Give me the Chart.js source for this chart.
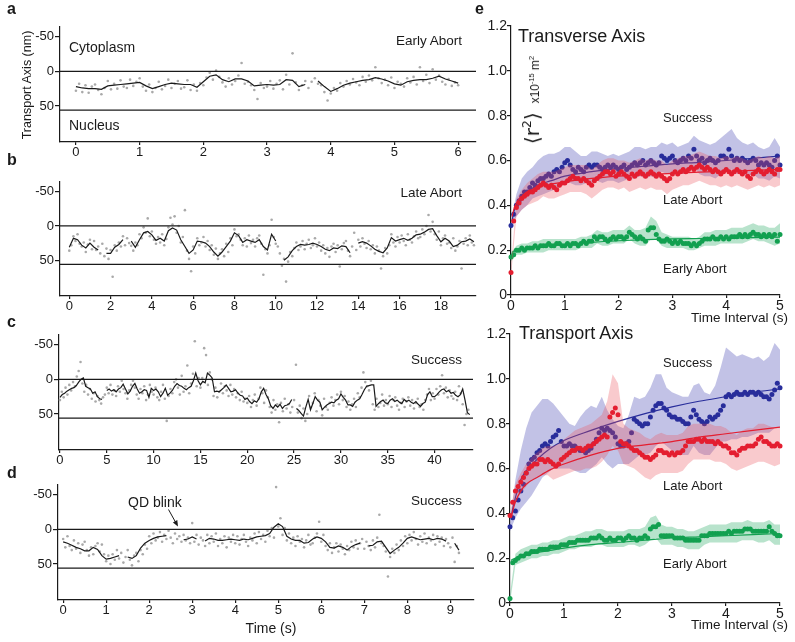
<!DOCTYPE html>
<html>
<head>
<meta charset="utf-8">
<script src="https://cdn.jsdelivr.net/npm/chart.js@4.4.0/dist/chart.umd.min.js"></script>
<style>
  html, body { margin: 0; padding: 0; background: #fff; }
  #fig { position: relative; width: 795px; height: 642px; overflow: hidden;
         font-family: 'Liberation Sans', Arial, Helvetica, sans-serif; color: #1a1a1a; }
  #fig canvas { position: absolute; }
  .t { position: absolute; line-height: 1; white-space: nowrap; }
  .l { transform: translateY(-50%); }
  .r { transform: translate(-100%, -50%); }
  .c { transform: translate(-50%, -50%); }
  .v { transform: translate(-50%, -50%) rotate(-90deg); }
  .p { font-weight: bold; font-size: 16px; }
  sup { font-size: 0.62em; line-height: 0; }
</style>
</head>
<body>
<div id="fig">
  <canvas id="chartA"></canvas>
  <canvas id="chartB"></canvas>
  <canvas id="chartC"></canvas>
  <canvas id="chartD"></canvas>
  <canvas id="chartTransverse"></canvas>
  <canvas id="chartTransport"></canvas>

  <div class="t l p" style="left:7px;top:9px">a</div>
  <div class="t l p" style="left:7px;top:160px">b</div>
  <div class="t l p" style="left:7px;top:322px">c</div>
  <div class="t l p" style="left:7px;top:473px">d</div>
  <div class="t l p" style="left:475px;top:9px">e</div>

  <div class="t v" style="left:27px;top:85px;font-size:12.5px">Transport Axis (nm)</div>
  <div class="t l" style="left:69px;top:47px;font-size:14px">Cytoplasm</div>
  <div class="t l" style="left:69px;top:125px;font-size:14px">Nucleus</div>
  <div class="t r" style="left:462px;top:41px;font-size:13.5px">Early Abort</div>
  <div class="t r" style="left:462px;top:193px;font-size:13.5px">Late Abort</div>
  <div class="t r" style="left:462px;top:360px;font-size:13.5px">Success</div>
  <div class="t r" style="left:462px;top:501px;font-size:13.5px">Success</div>
  <div class="t l" style="left:128px;top:502px;font-size:14px">QD blink</div>
  <div class="t c" style="left:271px;top:628px;font-size:14px">Time (s)</div>

  <div class="t l" style="left:518px;top:36px;font-size:18px">Transverse Axis</div>
  <div class="t l" style="left:663px;top:117px;font-size:13px">Success</div>
  <div class="t l" style="left:663px;top:199px;font-size:13px">Late Abort</div>
  <div class="t l" style="left:663px;top:268px;font-size:13px">Early Abort</div>
  <div class="t r" style="left:788px;top:318px;font-size:13.5px">Time Interval (s)</div>
  <div class="t v" style="left:532px;top:100px"><span style="font-size:20px;font-family:'DejaVu Sans',sans-serif">⟨r<sup>2</sup>⟩</span>&nbsp;&nbsp;<span style="font-size:12px">x10<sup>-15</sup> m<sup>2</sup></span></div>

  <div class="t l" style="left:519px;top:333px;font-size:18px">Transport Axis</div>
  <div class="t l" style="left:663px;top:362px;font-size:13px">Success</div>
  <div class="t l" style="left:663px;top:485px;font-size:13px">Late Abort</div>
  <div class="t l" style="left:663px;top:563px;font-size:13px">Early Abort</div>
  <div class="t r" style="left:788px;top:625px;font-size:13.5px">Time Interval (s)</div>

  <svg style="position:absolute;left:0;top:0" width="795" height="642">
    <line x1="168.5" y1="509.5" x2="176" y2="523" stroke="#1a1a1a" stroke-width="1"/>
    <polygon points="178,526.5 172.9,522.5 177.3,520.1" fill="#1a1a1a"/>
  </svg>
</div>

<script>
// ---------- a-d: single particle traces along the transport axis (nm) ----------
const envelopeNm = 56;
const traceYTicks = [-50, 0, 50];

// a: Early Abort
const earlyAbortLineStep = 0.1;
const earlyAbortLine = [22,24,25,25,26,21,20,19,18,17,
  16,21,25,22,19,17,18,19,19,23,
  15,7,5,12,15,11,11,14,21,20,
  19,20,19,12,13,22,19,null,14,22,
  29,25,20,17,15,13,12,9,11,14,
  18,20,15,13,12,12,10,7,11,14,
  17];
const earlyAbortDotStep = 0.05;
const earlyAbortDots = [28,18,30,20,31,22,19,27,33,24,14,26,18,25,13,22,24,12,21,15,
  10,22,28,19,30,24,15,26,21,12,24,18,14,25,23,13,27,19,28,17,
  20,9,2,12,-1,8,16,22,10,19,14,6,-12,18,15,20,27,40,17,24,
  22,14,25,18,13,26,5,19,-26,16,27,20,14,24,15,10,18,20,30,42,
  32,24,28,17,22,14,19,11,16,20,8,15,6,13,-6,10,17,12,20,9,
  24,15,18,22,10,16,8,19,-6,14,5,17,-3,12,6,15,19,11,21,16,
  20];
const earlyAbortTicks = [0, 1, 2, 3, 4, 5, 6];

// b: Late Abort
const lateAbortLineStep = 0.2;
const lateAbortLine = [31,18,20,28,32,25,31,35,null,40,
  40,31,27,20,null,22,31,20,10,8,
  13,21,18,22,7,3,6,20,30,40,
  35,22,23,25,30,38,44,38,30,22,
  10,14,24,20,22,24,20,30,35,12,
  22,null,50,45,36,30,27,28,27,25,
  27,30,34,36,32,33,29,30,39,null,
  25,23,25,29,34,37,39,32,17,22,
  20,18,21,18,13,12,9,5,4,14,
  23,18,22,30,28,23,22,19,23];
const lateAbortDotStep = 0.1;
const lateAbortDots = [36,28,15,22,12,26,30,24,38,27,20,34,22,35,30,40,26,44,33,48,
  35,74,28,36,24,30,15,28,18,25,29,36,24,28,12,18,2,10,-11,15,
  8,20,26,16,24,12,28,19,2,-12,-2,-14,10,0,24,16,-23,36,48,66,
  30,40,18,28,24,16,30,22,35,28,42,33,48,40,34,44,26,38,18,28,
  5,15,12,20,28,18,30,14,25,20,30,18,14,26,71,34,40,28,-9,16,
  26,30,40,58,48,81,52,38,44,32,24,35,30,22,34,26,20,32,28,18,
  30,24,36,28,40,32,45,30,26,38,28,59,34,25,22,36,44,30,10,35,
  20,30,18,26,32,22,34,28,40,30,36,62,44,32,40,28,12,24,30,16,
  24,14,22,28,12,20,24,15,8,18,16,5,12,0,-16,8,-6,12,20,8,
  28,18,14,26,24,32,18,36,30,22,62,26,18,28,14,24,28];
const lateAbortTicks = [0, 2, 4, 6, 8, 10, 12, 14, 16, 18];

// c: Success (long)
const successLongLineStep = 0.25;
const successLongLine = [26,22,20,17,15,13,12,9,4,0,-2,10,12,14,20,18,25,28,29,null,
  16,14,17,15,18,14,12,7,14,21,17,10,6,14,20,18,15,16,26,13,
  16,14,18,25,20,13,23,20,16,10,6,9,10,13,15,12,10,2,-9,2,
  8,3,5,-9,-6,-2,18,17,18,15,12,8,13,18,17,15,20,23,24,29,
  27,32,35,31,33,28,18,13,22,28,38,42,37,40,36,42,38,37,35,29,
  null,42,45,49,53,40,29,44,35,25,30,33,44,40,37,35,33,34,30,28,
  21,26,30,37,37,39,33,30,28,22,15,10,9,8,8,39,35,32,30,34,
  35,30,28,32,30,33,35,29,32,30,33,35,32,36,39,35,33,22,18,25,
  25,22,18,15,14,18,16,20,19,23,25,22,14,30,48,51];
const successLongDotStep = 0.2;
const successLongDots = [30,18,26,12,22,8,16,4,10,-4,-12,-25,6,18,8,22,14,28,20,32,24,30,35,26,22,
  12,20,8,22,16,24,10,18,2,14,20,28,16,8,2,12,22,28,14,20,10,30,22,8,18,
  22,12,26,30,18,8,28,60,24,14,20,4,0,12,22,-5,18,10,-20,20,6,-8,-55,10,-2,
  12,-2,-45,-35,8,-10,0,24,12,26,18,6,20,10,16,24,8,22,14,26,20,30,18,32,28,
  34,24,40,30,22,38,28,12,20,34,16,26,40,48,30,44,36,62,34,46,28,42,36,48,40,
  30,-21,48,38,56,42,60,50,24,40,34,20,46,30,38,52,28,40,44,34,26,38,30,22,36,
  18,30,24,40,32,44,36,28,40,20,26,12,-10,4,10,16,2,36,44,28,40,34,22,38,30,
  36,24,40,30,26,38,44,34,28,40,32,26,38,30,42,34,28,40,36,44,30,22,14,30,20,
  28,14,22,10,-6,20,12,26,16,24,28,18,30,10,20,36,66,50,44];
const successLongTicks = [0, 5, 10, 15, 20, 25, 30, 35, 40];

// d: Success with QD blink
const successBlinkLineStep = 0.1;
const successBlinkLine = [18,20,23,26,28,31,31,26,29,38,
  43,42,40,38,null,40,42,38,27,20,
  16,13,11,10,9,null,null,null,15,14,
  11,14,null,17,13,14,16,16,15,14,
  15,16,14,15,13,11,10,9,6,-3,
  -8,-4,10,14,16,16,20,19,14,11,
  13,18,26,27,24,26,30,25,22,20,
  null,24,23,18,17,26,35,30,26,20,
  13,11,13,15,14,13,15,13,14,17,
  null,20,30];
const successBlinkDotStep = 0.05;
const successBlinkDots = [14,26,10,24,30,16,28,20,34,22,18,30,38,26,36,24,20,32,22,36,
  46,38,50,36,44,30,42,34,48,40,30,44,52,38,34,46,30,36,22,28,
  10,20,6,16,12,4,18,8,14,2,12,20,6,14,10,18,8,16,12,20,
  -9,18,8,22,12,16,24,8,20,10,18,6,24,14,20,10,26,12,18,8,
  20,10,22,14,8,18,24,12,16,6,20,4,14,8,18,2,10,-2,12,-61,
  -4,-16,8,-2,16,6,20,12,24,10,18,14,26,16,8,22,20,12,6,-11,
  18,8,24,30,20,34,26,20,32,22,28,36,24,30,18,26,16,28,20,14,
  28,18,24,30,16,26,12,-21,20,24,32,68,40,28,34,22,30,16,24,10,
  20,8,16,4,14,22,10,18,6,20,12,16,8,22,10,18,12,24,14,20,
  26,12,47,24,34];
const successBlinkTicks = [0, 1, 2, 3, 4, 5, 6, 7, 8, 9];

// ---------- e: MSD curves, <r^2> in 1e-15 m^2 vs time interval (s) ----------
const msdStep = 0.05;
const bandStep = 0.1;
const intervalTicks = [0, 1, 2, 3, 4, 5];
const msdTicks = [0, 0.2, 0.4, 0.6, 0.8, 1.0, 1.2];
const fitTimes = [0.02, 0.05, 0.1, 0.2, 0.3, 0.5, 0.75, 1, 1.5, 2, 2.5, 3, 3.5, 4, 4.5, 5];

// Transverse axis
const successTransverse = [0.31,0.36,0.40,0.42,0.44,0.46,0.46,0.48,0.50,0.49,0.51,0.52,0.52,0.53,0.54,0.53,0.55,0.56,0.55,0.57,
  0.59,0.60,0.58,0.56,0.55,0.57,0.56,0.55,0.57,0.58,0.57,0.58,0.58,0.57,0.56,0.57,0.58,0.57,0.58,0.57,
  0.56,0.57,0.58,0.56,0.57,0.58,0.59,0.58,0.59,0.60,0.58,0.59,0.60,0.59,0.58,0.59,0.62,0.61,0.60,0.61,
  0.62,0.60,0.59,0.60,0.61,0.60,0.62,0.61,0.65,0.62,0.60,0.61,0.59,0.60,0.61,0.60,0.59,0.60,0.62,0.62,
  0.61,0.65,0.62,0.60,0.61,0.60,0.61,0.60,0.59,0.60,0.61,0.60,0.58,0.59,0.58,0.59,0.58,0.57,0.60,0.62,
  0.58];
const lateTransverse = [0.10,0.33,0.39,0.41,0.43,0.44,0.45,0.46,0.46,0.47,0.48,0.49,0.50,0.49,0.48,0.49,0.48,0.47,0.49,0.50,
  0.50,0.51,0.52,0.53,0.52,0.52,0.51,0.52,0.51,0.50,0.49,0.51,0.52,0.53,0.54,0.55,0.55,0.54,0.55,0.53,
  0.54,0.55,0.54,0.53,0.52,0.54,0.53,0.54,0.55,0.54,0.53,0.54,0.55,0.54,0.53,0.54,0.53,0.52,0.51,0.52,
  0.54,0.55,0.54,0.55,0.56,0.55,0.56,0.57,0.56,0.57,0.58,0.57,0.56,0.57,0.56,0.55,0.56,0.55,0.54,0.55,
  0.56,0.55,0.54,0.55,0.56,0.55,0.54,0.55,0.53,0.52,0.54,0.55,0.56,0.55,0.54,0.55,0.56,0.55,0.54,0.56,
  0.56];
const earlyTransverse = [0.17,0.18,0.20,0.20,0.21,0.20,0.21,0.21,0.21,0.22,0.21,0.22,0.22,0.22,0.23,0.22,0.22,0.23,0.23,0.22,
  0.22,0.23,0.22,0.23,0.23,0.22,0.23,0.24,0.23,0.24,0.24,0.26,0.25,0.26,0.26,0.25,0.24,0.25,0.26,0.25,
  0.26,0.26,0.25,0.26,0.28,0.27,0.26,0.25,0.26,0.25,0.24,0.29,0.30,0.30,0.27,0.25,0.24,0.24,0.25,0.24,
  0.23,0.24,0.23,0.24,0.23,0.23,0.23,0.22,0.23,0.22,0.23,0.24,0.25,0.25,0.25,0.26,0.25,0.25,0.26,0.25,
  0.26,0.25,0.26,0.26,0.26,0.27,0.26,0.27,0.26,0.27,0.28,0.27,0.27,0.26,0.27,0.26,0.27,0.26,0.27,0.24,
  0.27];
const successTransverseHi = [0.33,0.45,0.52,0.55,0.57,0.60,0.62,0.63,0.63,0.64,0.66,0.66,0.64,0.62,0.62,0.64,0.64,0.63,0.62,0.63,
  0.62,0.63,0.64,0.66,0.66,0.65,0.66,0.66,0.68,0.67,0.68,0.66,0.67,0.68,0.71,0.69,0.68,0.67,0.68,0.70,
  0.72,0.74,0.70,0.68,0.67,0.68,0.66,0.65,0.66,0.70,0.66];
const successTransverseLo = [0.29,0.35,0.38,0.40,0.43,0.44,0.45,0.46,0.47,0.48,0.50,0.50,0.49,0.49,0.50,0.50,0.51,0.50,0.51,0.51,
  0.50,0.51,0.52,0.52,0.53,0.52,0.53,0.52,0.55,0.54,0.55,0.54,0.54,0.55,0.57,0.54,0.53,0.53,0.52,0.54,
  0.55,0.56,0.54,0.54,0.53,0.54,0.52,0.52,0.51,0.53,0.52];
const lateTransverseHi = [0.12,0.43,0.47,0.50,0.52,0.54,0.55,0.55,0.55,0.56,0.57,0.58,0.58,0.58,0.58,0.56,0.58,0.60,0.61,0.61,
  0.60,0.60,0.59,0.60,0.61,0.60,0.61,0.60,0.60,0.58,0.60,0.61,0.62,0.62,0.63,0.64,0.63,0.62,0.62,0.61,
  0.62,0.61,0.62,0.61,0.60,0.61,0.62,0.61,0.62,0.61,0.62];
const lateTransverseLo = [0.08,0.35,0.38,0.40,0.41,0.42,0.44,0.43,0.43,0.44,0.45,0.46,0.46,0.46,0.45,0.43,0.45,0.47,0.48,0.48,
  0.47,0.48,0.46,0.47,0.48,0.47,0.48,0.47,0.47,0.45,0.47,0.48,0.49,0.49,0.50,0.51,0.50,0.49,0.49,0.48,
  0.49,0.48,0.49,0.48,0.47,0.48,0.49,0.48,0.49,0.48,0.49];
const earlyTransverseHi = [0.19,0.22,0.23,0.23,0.24,0.24,0.25,0.25,0.25,0.25,0.25,0.25,0.25,0.26,0.26,0.27,0.29,0.28,0.28,0.29,
  0.29,0.29,0.31,0.29,0.29,0.30,0.35,0.33,0.28,0.27,0.26,0.26,0.26,0.26,0.25,0.26,0.28,0.28,0.29,0.29,
  0.29,0.30,0.30,0.30,0.31,0.32,0.31,0.31,0.30,0.30,0.32];
const earlyTransverseLo = [0.15,0.18,0.18,0.19,0.19,0.19,0.19,0.20,0.20,0.20,0.20,0.20,0.20,0.21,0.21,0.21,0.23,0.22,0.22,0.23,
  0.23,0.23,0.25,0.23,0.22,0.22,0.25,0.25,0.22,0.21,0.21,0.21,0.21,0.20,0.20,0.21,0.22,0.22,0.22,0.23,
  0.23,0.23,0.23,0.23,0.24,0.25,0.24,0.24,0.23,0.22,0.23];
const successTransverseFit = [0.33,0.37,0.40,0.44,0.46,0.49,0.51,0.53,0.55,0.565,0.575,0.585,0.592,0.60,0.61,0.62];
const lateTransverseFit = [0.35,0.38,0.41,0.44,0.46,0.48,0.495,0.505,0.52,0.53,0.537,0.543,0.548,0.552,0.556,0.56];
const earlyTransverseFit = [0.19,0.195,0.20,0.205,0.21,0.215,0.22,0.225,0.235,0.242,0.247,0.25,0.252,0.254,0.256,0.258];

// Transport axis
const successTransport = [0.34,0.38,0.41,0.46,0.50,0.53,0.58,0.62,0.64,0.65,0.67,0.68,0.70,0.71,0.70,0.72,0.74,0.75,0.77,0.72,
  0.70,0.70,0.71,0.70,0.70,0.69,0.68,0.68,0.67,0.68,0.69,0.71,0.73,0.76,0.78,0.77,0.78,0.77,0.76,0.74,
  0.71,0.70,0.70,0.71,0.72,0.76,0.82,0.81,0.80,0.79,0.80,0.80,0.83,0.86,0.88,0.89,0.89,0.87,0.86,0.84,
  0.83,0.83,0.82,0.82,0.81,0.80,0.80,0.83,0.86,0.84,0.82,0.81,0.80,0.81,0.83,0.82,0.83,0.84,0.86,0.88,
  0.92,0.93,0.92,0.93,0.94,0.93,0.93,0.94,0.93,0.94,0.94,0.93,0.94,0.93,0.92,0.92,0.91,0.93,0.95,0.98,
  0.96];
const lateTransport = [0.39,0.45,0.50,0.52,0.54,0.56,0.58,0.60,0.61,0.62,0.62,0.64,0.64,0.63,0.64,0.63,0.62,0.61,0.62,0.64,
  0.65,0.66,0.67,0.68,0.68,0.69,0.69,0.68,0.69,0.70,0.70,0.71,0.72,0.73,0.74,0.75,0.74,0.83,0.85,0.87,
  0.84,0.72,0.71,0.71,0.70,0.69,0.68,0.68,0.67,0.66,0.65,0.65,0.64,0.65,0.66,0.68,0.68,0.67,0.67,0.66,
  0.67,0.66,0.67,0.67,0.68,0.70,0.72,0.72,0.72,0.73,0.73,0.72,0.73,0.72,0.72,0.72,0.71,0.72,0.71,0.70,
  0.70,0.69,0.67,0.67,0.66,0.68,0.69,0.69,0.70,0.70,0.70,0.71,0.73,0.74,0.72,0.72,0.71,0.70,0.70,0.71,
  0.70];
const earlyTransport = [0.02,0.18,0.19,0.20,0.21,0.21,0.22,0.22,0.23,0.23,0.23,0.24,0.24,0.24,0.24,0.25,0.25,0.25,0.25,0.26,
  0.26,0.26,0.27,0.27,0.27,0.28,0.28,0.28,0.28,0.28,0.29,0.29,0.29,0.30,0.29,0.28,0.28,0.29,0.28,0.28,
  0.29,0.29,0.28,0.29,0.30,0.29,0.29,0.28,0.29,0.29,0.30,0.29,0.33,0.34,0.34,0.35,0.30,0.30,0.30,0.30,
  0.30,0.29,0.29,0.29,0.29,0.28,0.28,0.28,0.28,0.28,0.28,0.30,0.30,0.30,0.31,0.31,0.31,0.31,0.31,0.31,
  0.31,0.32,0.31,0.32,0.32,0.32,0.32,0.33,0.33,0.33,0.32,0.32,0.32,0.32,0.32,0.32,0.34,0.32,0.31,0.30,
  0.30];
const successTransportHi = [0.36,0.55,0.68,0.78,0.85,0.88,0.91,0.91,0.89,0.86,0.83,0.80,0.79,0.83,0.86,0.88,0.87,0.92,0.86,0.82,
  0.79,0.78,0.84,0.92,0.91,0.92,0.96,1.02,1.02,0.96,0.94,0.93,0.92,0.92,0.97,0.98,0.94,0.93,0.97,1.05,
  1.14,1.12,1.10,1.11,1.10,1.09,1.10,1.08,1.10,1.16,1.13];
const successTransportLo = [0.32,0.38,0.42,0.45,0.48,0.52,0.56,0.58,0.60,0.60,0.60,0.60,0.59,0.58,0.58,0.60,0.62,0.65,0.62,0.60,
  0.62,0.62,0.62,0.64,0.66,0.66,0.67,0.70,0.72,0.70,0.68,0.67,0.66,0.66,0.70,0.67,0.66,0.66,0.69,0.72,
  0.72,0.73,0.73,0.74,0.74,0.75,0.76,0.76,0.76,0.78,0.78];
const lateTransportHi = [0.40,0.53,0.58,0.62,0.65,0.67,0.69,0.70,0.70,0.71,0.73,0.75,0.77,0.78,0.79,0.80,0.82,0.84,0.90,1.02,
  0.98,0.80,0.78,0.77,0.76,0.74,0.73,0.75,0.76,0.75,0.75,0.75,0.76,0.79,0.80,0.80,0.80,0.80,0.79,0.79,
  0.78,0.76,0.75,0.77,0.78,0.78,0.80,0.80,0.79,0.78,0.78];
const lateTransportLo = [0.37,0.45,0.49,0.52,0.55,0.56,0.57,0.57,0.55,0.56,0.57,0.58,0.59,0.59,0.60,0.60,0.61,0.63,0.66,0.70,
  0.68,0.62,0.61,0.60,0.58,0.56,0.55,0.57,0.58,0.58,0.58,0.58,0.59,0.62,0.64,0.64,0.64,0.64,0.63,0.63,
  0.62,0.60,0.59,0.60,0.61,0.62,0.63,0.63,0.62,0.61,0.62];
const earlyTransportHi = [0.04,0.22,0.24,0.25,0.26,0.26,0.27,0.27,0.28,0.28,0.29,0.30,0.30,0.31,0.32,0.32,0.33,0.33,0.32,0.32,
  0.32,0.32,0.33,0.33,0.33,0.34,0.38,0.39,0.35,0.34,0.34,0.33,0.33,0.32,0.32,0.33,0.34,0.35,0.35,0.35,
  0.35,0.36,0.36,0.36,0.37,0.36,0.36,0.36,0.37,0.35,0.35];
const earlyTransportLo = [0.00,0.17,0.18,0.19,0.20,0.20,0.21,0.21,0.22,0.22,0.23,0.24,0.24,0.25,0.25,0.25,0.26,0.26,0.25,0.25,
  0.25,0.25,0.26,0.26,0.25,0.26,0.28,0.29,0.26,0.26,0.26,0.25,0.25,0.24,0.24,0.24,0.26,0.27,0.27,0.27,
  0.27,0.27,0.27,0.28,0.28,0.28,0.27,0.27,0.28,0.26,0.26];
const successTransportFit = [0.38,0.42,0.47,0.55,0.59,0.64,0.69,0.725,0.77,0.81,0.845,0.875,0.90,0.92,0.94,0.955];
const lateTransportFit = [0.38,0.41,0.45,0.50,0.53,0.56,0.595,0.62,0.66,0.69,0.705,0.72,0.74,0.755,0.77,0.785];
const earlyTransportFit = [0.19,0.195,0.20,0.21,0.215,0.225,0.235,0.245,0.26,0.27,0.28,0.29,0.295,0.30,0.305,0.31];

// ---------- drawing ----------
const ink = '#1a1a1a';
const blue = 'rgb(40,45,155)';
const red = 'rgb(228,30,48)';
const green = 'rgb(18,160,80)';

Chart.defaults.font.family = "'Liberation Sans', Arial, Helvetica, sans-serif";
Chart.defaults.color = ink;

function xy(values, step) {
  return values.map((v, i) => ({ x: Math.round(i * step * 1000) / 1000, y: v }));
}

function place(id, box) {
  const cv = document.getElementById(id);
  cv.width = box.w;
  cv.height = box.h;
  Object.assign(cv.style, { left: box.x + 'px', top: box.y + 'px', width: box.w + 'px', height: box.h + 'px' });
  return cv;
}

function axis(ticks, size, tickLen, pad, fmt) {
  return {
    type: 'linear',
    afterBuildTicks: s => { s.ticks = ticks.map(v => ({ value: v })); },
    ticks: { font: { size: size }, color: ink, padding: pad, autoSkip: false, maxRotation: 0, callback: fmt },
    grid: { display: true, drawOnChartArea: false, drawTicks: true, tickLength: tickLen, color: ink, lineWidth: 1.2 },
    border: { display: true, color: ink, width: 1.2 }
  };
}

function baseOptions(box, area) {
  return {
    responsive: false,
    animation: false,
    events: [],
    layout: { padding: { top: area.t - box.y, right: box.x + box.w - area.r, left: 0, bottom: 0 } },
    plugins: { legend: { display: false }, tooltip: { enabled: false } }
  };
}

function tracePanel(id, box, area, xMin, xMax, xTicks, line, lineStep, dots, dotStep) {
  const cv = place(id, box);
  const opts = baseOptions(box, area);
  opts.scales = {
    x: Object.assign(axis(xTicks, 13, 3, 0, v => String(v)), {
      min: xMin, max: xMax,
      afterFit: s => { s.height = box.y + box.h - area.b; s.paddingLeft = 0; s.paddingRight = 0; }
    }),
    y: Object.assign(axis(traceYTicks, 13, 5, 1, v => String(v)), {
      min: -64, max: 102, reverse: true,
      afterFit: s => { s.width = area.l - box.x; s.paddingTop = 0; s.paddingBottom = 0; }
    })
  };
  new Chart(cv, {
    type: 'line',
    data: {
      datasets: [
        { data: xy(line, lineStep), borderColor: ink, borderWidth: 1.2, pointRadius: 0, spanGaps: false, order: 1 },
        { data: [{ x: xMin, y: 0 }, { x: xMax, y: 0 }], borderColor: ink, borderWidth: 1.3, pointRadius: 0, order: 2 },
        { data: [{ x: xMin, y: envelopeNm }, { x: xMax, y: envelopeNm }], borderColor: ink, borderWidth: 1.3, pointRadius: 0, order: 2 },
        { data: xy(dots, dotStep), showLine: false, pointRadius: 1.3, pointBackgroundColor: '#a9a9a9', pointBorderWidth: 0, order: 3, clip: false }
      ]
    },
    options: opts
  });
}

function msdPanel(id, box, area, groups) {
  const cv = place(id, box);
  const datasets = [];
  groups.forEach((g, k) => {
    const base = (groups.length - k) * 4;
    datasets.push({ data: xy(g.lo, bandStep), borderWidth: 0, pointRadius: 0, fill: false, order: base + 3 });
    datasets.push({ data: xy(g.hi, bandStep), borderWidth: 0, pointRadius: 0, fill: '-1', backgroundColor: g.band, order: base + 3 });
    datasets.push({ data: xy(g.mean, msdStep), showLine: false, pointRadius: 2.5, pointBackgroundColor: g.color, pointBorderWidth: 0, order: base + 2, clip: false });
    datasets.push({ data: fitTimes.map((t, i) => ({ x: t, y: g.fit[i] })), borderColor: g.color, borderWidth: 1.2, pointRadius: 0, cubicInterpolationMode: 'monotone', order: base + 1 });
  });
  const opts = baseOptions(box, area);
  opts.scales = {
    x: Object.assign(axis(intervalTicks, 14, 3, 0, v => String(v)), {
      min: 0, max: 5,
      afterFit: s => { s.height = box.y + box.h - area.b; s.paddingLeft = 0; s.paddingRight = 0; }
    }),
    y: Object.assign(axis(msdTicks, 14, 4, 0, v => v === 0 ? '0' : v.toFixed(1)), {
      min: 0, max: 1.2,
      afterFit: s => { s.width = area.l - box.x; s.paddingTop = 0; s.paddingBottom = 0; }
    })
  };
  new Chart(cv, { type: 'line', data: { datasets: datasets }, options: opts });
}

tracePanel('chartA', { x: 0, y: 12, w: 495, h: 155 }, { l: 60, t: 27, r: 476, b: 142 },
  -0.25, 6.28, earlyAbortTicks, earlyAbortLine, earlyAbortLineStep, earlyAbortDots, earlyAbortDotStep);
tracePanel('chartB', { x: 0, y: 167, w: 495, h: 155 }, { l: 60, t: 182, r: 476, b: 296 },
  -0.45, 19.7, lateAbortTicks, lateAbortLine, lateAbortLineStep, lateAbortDots, lateAbortDotStep);
tracePanel('chartC', { x: 0, y: 320, w: 495, h: 155 }, { l: 59, t: 335, r: 473, b: 450 },
  -0.1, 44.1, successLongTicks, successLongLine, successLongLineStep, successLongDots, successLongDotStep);
tracePanel('chartD', { x: 0, y: 470, w: 495, h: 155 }, { l: 58, t: 485, r: 474, b: 600 },
  -0.12, 9.55, successBlinkTicks, successBlinkLine, successBlinkLineStep, successBlinkDots, successBlinkDotStep);

const blueBand = 'rgba(70,70,180,0.33)';
const redBand = 'rgba(235,80,90,0.3)';
const greenBand = 'rgba(40,170,100,0.33)';

msdPanel('chartTransverse', { x: 465, y: 11, w: 330, h: 304 }, { l: 511, t: 26, r: 780, b: 295 }, [
  { mean: earlyTransverse, hi: earlyTransverseHi, lo: earlyTransverseLo, fit: earlyTransverseFit, color: green, band: greenBand },
  { mean: successTransverse, hi: successTransverseHi, lo: successTransverseLo, fit: successTransverseFit, color: blue, band: blueBand },
  { mean: lateTransverse, hi: lateTransverseHi, lo: lateTransverseLo, fit: lateTransverseFit, color: red, band: redBand }
]);
msdPanel('chartTransport', { x: 465, y: 319, w: 330, h: 304 }, { l: 510, t: 334, r: 780, b: 603 }, [
  { mean: earlyTransport, hi: earlyTransportHi, lo: earlyTransportLo, fit: earlyTransportFit, color: green, band: greenBand },
  { mean: successTransport, hi: successTransportHi, lo: successTransportLo, fit: successTransportFit, color: blue, band: blueBand },
  { mean: lateTransport, hi: lateTransportHi, lo: lateTransportLo, fit: lateTransportFit, color: red, band: redBand }
]);
</script>
</body>
</html>
